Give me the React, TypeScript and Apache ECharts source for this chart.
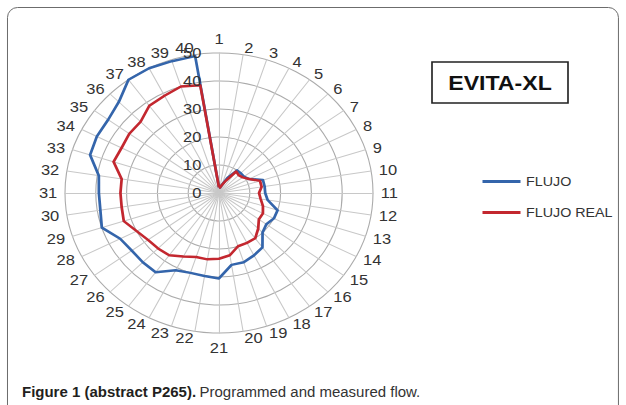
import React, { useEffect, useRef } from "react";
import * as echarts from "echarts";

const spokeLabels = [
  "1", "2", "3", "4", "5", "6", "7", "8", "9", "10",
  "11", "12", "13", "14", "15", "16", "17", "18", "19", "20",
  "21", "22", "23", "24", "25", "26", "27", "28", "29", "30",
  "31", "32", "33", "34", "35", "36", "37", "38", "39", "40",
];

const flujo = [
  2, 2, 3, 6, 10, 10, 10, 11, 15, 15,
  15, 16, 20, 20, 19, 20, 24, 25, 26, 26,
  30.5, 30, 30, 31, 35, 35, 35, 36, 40, 39,
  39, 39.5, 44, 44.5, 44.5, 46, 50, 50, 49.5, 49.5,
];

const flujoReal = [
  2, 2, 3, 5, 9.5, 9, 9.5, 11, 14, 14,
  13, 13.7, 15, 16, 16, 18, 20, 20, 20, 22.5,
  23.5, 24, 24, 25.5, 27.5, 28, 28.5, 30, 32.5, 32,
  32, 32, 36, 35.5, 36, 36, 38.5, 39, 40, 39,
];

const radialMin = 0;
const radialMax = 50;
const radialStep = 10;

const seriesNames = ["FLUJO", "FLUJO REAL"];
const titleText = "EVITA-XL";
const captionBold = "Figure 1 (abstract P265).";
const captionRest = "Programmed and measured flow.";

const BLUE = "#3465ab";
const RED = "#c3272f";

// the reference figure is stretched horizontally; reproduce with a CSS scale
const SX = 1.1;
const W = 626;
const H = 405;

export default function App() {
  const ref = useRef<HTMLDivElement>(null);

  useEffect(() => {
    if (!ref.current) return;
    const chart = echarts.init(ref.current, null, { renderer: "svg" });
    const n = spokeLabels.length;
    // ECharts radar goes counter-clockwise; reorder so labels run clockwise.
    const order = [0, ...Array.from({ length: n - 1 }, (_, i) => n - 1 - i)];
    const center = [219 / SX, 193];
    const radius = 140;
    const inv = 1 / SX;

    const option: any = {
      animation: false,
      backgroundColor: "#ffffff",
      color: [BLUE, RED],
      legend: {
        data: seriesNames,
        orient: "vertical",
        left: 477 / SX,
        top: 170,
        itemWidth: 38 / SX,
        itemHeight: 3,
        itemGap: 18,
        icon: "rect",
        textStyle: { color: "#333", fontSize: 13, fontFamily: "Liberation Sans" },
      },
      radar: {
        center,
        radius,
        startAngle: 90,
        shape: "circle",
        splitNumber: (radialMax - radialMin) / radialStep,
        nameGap: 7,
        indicator: order.map((i) => ({ name: spokeLabels[i], min: radialMin, max: radialMax })),
        axisName: { color: "#333", fontSize: 15, fontFamily: "Liberation Sans" },
        splitLine: { lineStyle: { color: "#ababab", width: 1 } },
        splitArea: { show: false },
        axisLine: { lineStyle: { color: "#c8c8c8", width: 1 } },
        axisTick: { show: false },
      },
      polar: { center, radius },
      angleAxis: {
        type: "value",
        min: 0,
        max: 360,
        startAngle: 90,
        show: false,
      },
      radiusAxis: {
        type: "value",
        min: radialMin,
        max: radialMax,
        interval: radialStep,
        axisLine: { show: false },
        axisTick: { show: false },
        splitLine: { show: false },
        axisLabel: { color: "#333", fontSize: 15, fontFamily: "Liberation Sans", margin: 16 },
        z: 5,
      },
      series: [
        {
          type: "radar",
          symbol: "none",
          z: 3,
          data: [
            {
              name: seriesNames[0],
              value: order.map((i) => flujo[i]),
              lineStyle: { color: BLUE, width: 2.5 },
              itemStyle: { color: BLUE },
            },
            {
              name: seriesNames[1],
              value: order.map((i) => flujoReal[i]),
              lineStyle: { color: RED, width: 2.5 },
              itemStyle: { color: RED },
            },
          ],
        },
      ],
      graphic: [
        {
          type: "group",
          x: 0,
          y: 0,
          scaleX: inv,
          silent: true,
          children: [
            {
              type: "rect",
              shape: { x: 7.5, y: 7.5, width: 611, height: 420, r: 10 },
              style: { fill: "none", stroke: "#6b6b6b", lineWidth: 1 },
              z: 0,
            },
            {
              type: "text",
              x: 22,
              y: 391,
              style: {
                text: `{b|${captionBold}} {r|${captionRest}}`,
                verticalAlign: "middle",
                rich: {
                  b: { font: "bold 15px 'Liberation Sans'", fill: "#231f20" },
                  r: { font: "15px 'Liberation Sans'", fill: "#333" },
                },
              },
              z: 11,
            },
          ],
        },
        {
          type: "rect",
          shape: { x: 432 / SX, y: 62, width: 136 / SX, height: 41 },
          style: { fill: "#fff", stroke: "#222", lineWidth: 1.5 },
          z: 10,
        },
        {
          type: "text",
          x: 500 / SX,
          y: 83,
          style: {
            text: titleText,
            fill: "#111",
            font: "bold 21px 'Liberation Sans'",
            align: "center",
            verticalAlign: "middle",
          },
          z: 11,
        },
      ],
    };

    chart.setOption(option);
    return () => chart.dispose();
  }, []);

  return (
    <div style={{ position: "fixed", left: 0, top: 0, width: W, height: H, background: "#fff", overflow: "hidden" }}>
      <div
        ref={ref}
        style={{
          width: W / SX,
          height: H,
          transform: `scaleX(${SX})`,
          transformOrigin: "0 0",
        }}
      />
    </div>
  );
}
